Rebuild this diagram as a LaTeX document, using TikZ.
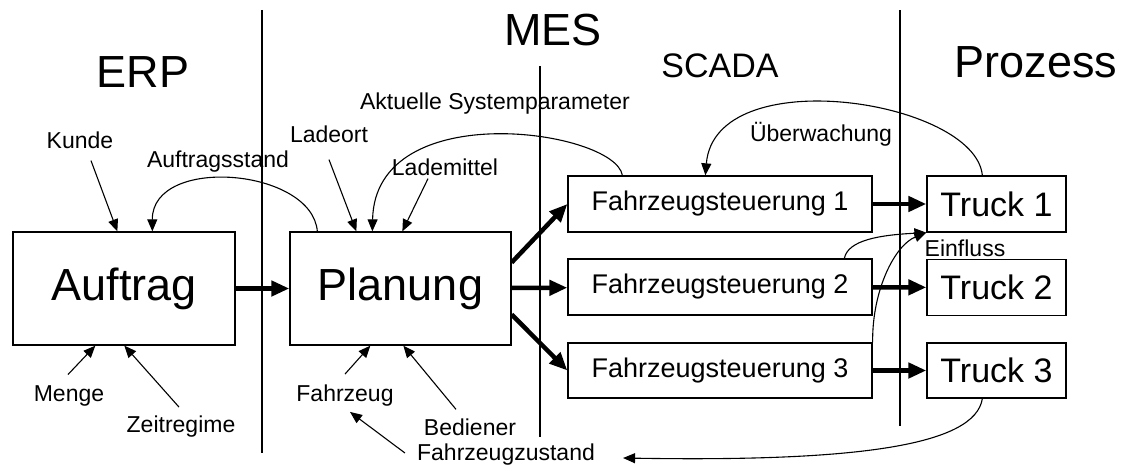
\documentclass[tikz,border=0pt]{standalone}
\usepackage{fontspec}
\setmainfont{Liberation Sans}
\usetikzlibrary{arrows.meta}
\begin{document}
\begin{tikzpicture}[x=1pt,y=-1pt,
        arrow/.style = {line width=1.1pt,-{Triangle[length=12pt,width=10pt]}},
        fatarrow/.style = {line width=4.5pt,-{Triangle[length=18pt,width=15pt]}},
        box/.style = {draw,line width=1.3pt,inner sep=0pt},
        big/.style = {font=\fontsize{45}{54}\selectfont},
        mid/.style = {font=\fontsize{34}{40}\selectfont},
        steu/.style = {font=\fontsize{27}{32}\selectfont},
        lbl/.style = {font=\fontsize{23}{28}\selectfont,inner sep=0pt}]
                \useasboundingbox (0,0) rectangle (1126,468);

                % Ebenen
                \node[big] (erp) at (143,72) {ERP};
                \node[big] (mes) at (553,30) {MES};
                \node[mid] (scada) at (720,66) {SCADA};
                \node[big] (prozess) at (1036,62) {Prozess};
                \draw[line width=1.2pt] (262,10) -- (262,453);
                \draw[line width=1.2pt] (540,66) -- (540,437);
                \draw[line width=1.2pt] (900,10) -- (900,426);

                % Kaesten
                \node[box,big,minimum width=222pt,minimum height=113pt]
                    (auftrag) at (124,288.5) {Auftrag};
                \node[box,big,minimum width=221pt,minimum height=113pt]
                    (planung) at (400.5,288.5) {Planung};
                \node[box,steu,minimum width=304pt,minimum height=56pt]
                    (fs1) at (720,204) {Fahrzeugsteuerung 1};
                \node[box,steu,minimum width=304pt,minimum height=56pt]
                    (fs2) at (720,287) {Fahrzeugsteuerung 2};
                \node[box,steu,minimum width=304pt,minimum height=55pt]
                    (fs3) at (720,370.5) {Fahrzeugsteuerung 3};
                \node[box,mid,minimum width=139pt,minimum height=56pt]
                    (truck1) at (996.5,204) {Truck 1};
                \node[box,mid,minimum width=139pt,minimum height=56pt]
                    (truck2) at (996.5,287.5) {Truck 2};
                \node[box,mid,minimum width=139pt,minimum height=55pt]
                    (truck3) at (996.5,370.5) {Truck 3};

                % Beschriftungen
                \node[lbl] (kunde) at (80,140) {Kunde};
                \node[lbl] (astand) at (218,162) {Auftragsstand};
                \node[lbl] (ladeort) at (329,134) {Ladeort};
                \node[lbl] (lademittel) at (445,167) {Lademittel};
                \node[lbl] (param) at (495,104) {Aktuelle Systemparameter};
                \node[lbl] (ueberw) at (821,134) {Überwachung};
                \node[lbl] (einfluss) at (965,248) {Einfluss};
                \node[lbl] (menge) at (69,396) {Menge};
                \node[lbl] (zeit) at (181,427) {Zeitregime};
                \node[lbl] (fahrzeug) at (345,396) {Fahrzeug};
                \node[lbl] (bediener) at (470,427) {Bediener};
                \node[lbl] (fzustand) at (506,455) {Fahrzeugzustand};

                % Hauptfluss
                \draw[fatarrow] (auftrag) -- (planung);
                \draw[fatarrow] ([yshift=26pt]planung.east) -- (fs1.west);
                \draw[fatarrow] (planung) -- (fs2);
                \draw[fatarrow] ([yshift=-26pt]planung.east) -- (fs3.west);
                \draw[fatarrow] (fs1) -- (truck1);
                \draw[fatarrow] (fs2) -- (truck2);
                \draw[fatarrow] (fs3) -- (truck3);

                % Eingaben
                \draw[arrow] ([xshift=11pt,yshift=-12pt]kunde.south)
                    -- ([xshift=105pt]auftrag.north west);
                \draw[arrow] ([xshift=-1pt,yshift=11pt]menge.north)
                    -- ([xshift=83pt]auftrag.south west);
                \draw[arrow] ([xshift=-2pt,yshift=9pt]zeit.north)
                    -- ([xshift=112pt]auftrag.south west);
                \draw[arrow] ([yshift=-17pt]ladeort.south)
                    -- ([xshift=67pt]planung.north west);
                \draw[arrow] ([xshift=-17pt,yshift=-3pt]lademittel.south)
                    -- ([xshift=113pt]planung.north west);
                \draw[arrow] ([yshift=11pt]fahrzeug.north)
                    -- ([xshift=81pt]planung.south west);
                \draw[arrow] ([xshift=-14pt,yshift=9pt]bediener.north)
                    -- ([xshift=114pt]planung.south west);
                \draw[arrow] ([xshift=-12pt,yshift=2pt]fzustand.west)
                    -- ([xshift=5pt,yshift=-5pt]fahrzeug.south);

                % Rueckmeldungen
                \draw[arrow] ([xshift=28pt]planung.north west)
                    .. controls (312,168) and (152,155) .. ([xshift=140pt]auftrag.north west);
                \draw[arrow] ([xshift=55pt]fs1.north west)
                    .. controls (615,130) and (375,95) .. ([xshift=83pt]planung.north west);
                \draw[arrow] ([xshift=56pt]truck1.north west)
                    .. controls (975,100) and (715,60) .. ([xshift=138pt]fs1.north west);
                \draw[arrow] ([xshift=277pt]fs2.north west)
                    .. controls (848,240) and (880,235) .. (truck1.south west);
                \draw[arrow] (fs3.north east)
                    .. controls (872,290) and (895,245) .. (truck1.south west);
                \draw[arrow] ([xshift=56pt]truck3.south west)
                    .. controls (975,445) and (860,462) .. ([xshift=28pt,yshift=-3pt]fzustand.east);
            \end{tikzpicture}
\end{document}
